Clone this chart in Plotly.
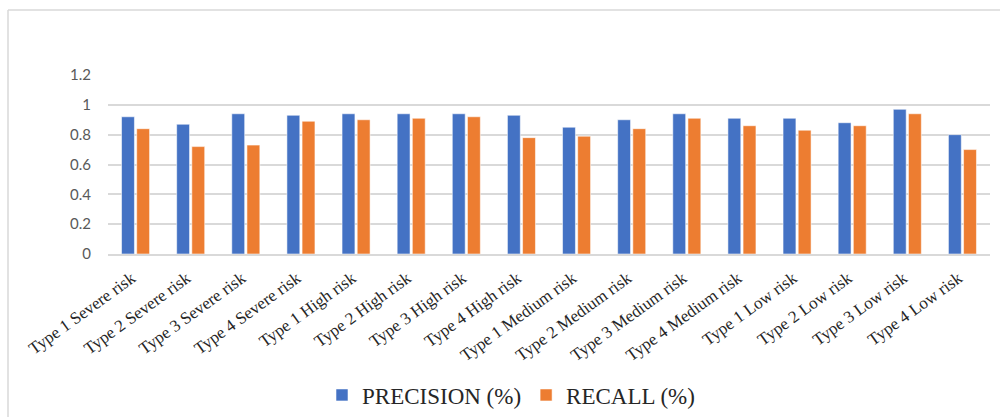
import plotly.graph_objects as go

categories = [
    "Type 1 Severe risk", "Type 2 Severe risk", "Type 3 Severe risk", "Type 4 Severe risk",
    "Type 1 High risk", "Type 2 High risk", "Type 3 High risk", "Type 4 High risk",
    "Type 1 Medium risk", "Type 2 Medium risk", "Type 3 Medium risk", "Type 4 Medium risk",
    "Type 1 Low risk", "Type 2 Low risk", "Type 3 Low risk", "Type 4 Low risk",
]
precision = [0.92, 0.87, 0.94, 0.93, 0.94, 0.94, 0.94, 0.93,
             0.85, 0.90, 0.94, 0.91, 0.91, 0.88, 0.97, 0.80]
recall = [0.84, 0.72, 0.73, 0.89, 0.90, 0.91, 0.92, 0.78,
          0.79, 0.84, 0.91, 0.86, 0.83, 0.86, 0.94, 0.70]
y_ticks = [0, 0.2, 0.4, 0.6, 0.8, 1, 1.2]

W, H = 1000, 417
ML, MR, MT, MB = 108, 10, 75, 163
pw, ph = W - ML - MR, H - MT - MB

fig = go.Figure()
fig.add_trace(go.Bar(
    x=categories, y=precision, name="PRECISION (%)",
    marker=dict(color="#4472C4", line=dict(color="rgba(255,255,255,0.55)", width=1)),
))
fig.add_trace(go.Bar(
    x=categories, y=recall, name="RECALL (%)",
    marker=dict(color="#ED7D31", line=dict(color="rgba(255,255,255,0.55)", width=1)),
))

# outer chart frame (left and top edges visible)
def px_x(p):
    return (p - ML) / pw

def px_y(p):
    return (H - MB - p) / ph

fig.add_shape(type="line", xref="paper", yref="paper",
              x0=px_x(8), x1=px_x(8), y0=px_y(10), y1=px_y(H + 5),
              line=dict(color="#D9D9D9", width=1.5))
fig.add_shape(type="line", xref="paper", yref="paper",
              x0=px_x(8), x1=px_x(W + 5), y0=px_y(10), y1=px_y(10),
              line=dict(color="#D9D9D9", width=1.5))

fig.update_layout(
    width=W, height=H,
    margin=dict(l=ML, r=MR, t=MT, b=MB, autoexpand=False),
    paper_bgcolor="white", plot_bgcolor="white",
    barmode="group", bargap=0.45, bargroupgap=0.15,
    showlegend=True,
    legend=dict(orientation="h", x=px_x(511), xanchor="center", y=px_y(395), yanchor="middle",
                font=dict(family="Liberation Serif", size=23, color="#262626"),
                itemwidth=30, traceorder="normal"),
    xaxis=dict(tickangle=-36, showgrid=False, showline=True, linecolor="#D9D9D9", linewidth=1.5,
               ticks="", automargin=False, ticklabelshift=-4, ticklabelstandoff=6,
               tickfont=dict(family="Liberation Serif", size=17, color="#262626")),
    yaxis=dict(range=[0, 1.2], tickvals=y_ticks, ticktext=[f"{v:g}" for v in y_ticks],
               showgrid=True, gridcolor="#D9D9D9", gridwidth=1.5, zeroline=False,
               showline=False, ticks="", ticklabelstandoff=16, automargin=False,
               tickfont=dict(family="Lato", size=15, color="#595959")),
)

fig.write_html("out.html")
